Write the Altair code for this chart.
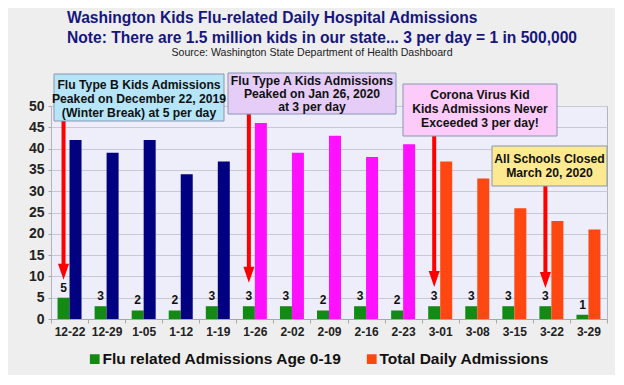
import altair as alt
import pandas as pd

# ---- data ----
dates = ["12-22", "12-29", "1-05", "1-12", "1-19", "1-26", "2-02", "2-09",
         "2-16", "2-23", "3-01", "3-08", "3-15", "3-22", "3-29"]
kids = [5, 3, 2, 2, 3, 3, 3, 2, 3, 2, 3, 3, 3, 3, 1]
totals = [42, 39, 42, 34, 37, 46, 39, 43, 38, 41, 37, 33, 26, 23, 21]
total_groups = ["Flu B season", "Flu B season", "Flu B season", "Flu B season", "Flu B season",
                "Flu A season", "Flu A season", "Flu A season", "Flu A season", "Flu A season",
                "Total Daily Admissions", "Total Daily Admissions", "Total Daily Admissions",
                "Total Daily Admissions", "Total Daily Admissions"]

KIDS = "Flu related Admissions Age 0-19"
TOTAL = "Total Daily Admissions"

y_ticks = [0, 5, 10, 15, 20, 25, 30, 35, 40, 45, 50]

arrow_dates = ["12-22", "1-26", "3-01", "3-22"]
arrow_top = [48, 48.5, 43, 31.5]
arrow_tip = [9.2, 8.5, 7.5, 7.3]

title_lines = ["Washington Kids Flu-related Daily Hospital Admissions",
               "Note: There are 1.5 million kids in our state... 3 per day = 1 in 500,000"]
source_text = "Source: Washington State Department of Health Dashboard"

box1_lines = ["Flu Type B Kids Admissions", "Peaked on December 22, 2019", "(Winter Break) at 5 per day"]
box2_lines = ["Flu Type A Kids Admissions", "Peaked on Jan 26, 2020", "at 3 per day"]
box3_lines = ["Corona Virus Kid", "Kids Admissions Never", "Exceeded 3 per day!"]
box4_lines = ["All Schools Closed", "March 20, 2020"]

# ---- tables ----
rows = []
for d, k, t, g in zip(dates, kids, totals, total_groups):
    rows.append({"date": d, "series": "kids", "value": k, "color": KIDS})
    rows.append({"date": d, "series": "total", "value": t, "color": g})
bars_df = pd.DataFrame(rows)
kids_df = pd.DataFrame({"date": dates, "series": "kids", "value": kids})
arrows_df = pd.DataFrame({"date": arrow_dates, "series": "kids", "top": arrow_top, "tip": arrow_tip})
one = pd.DataFrame({"k": [0]})

GREEN = "#138a13"
ORANGE = "#ff4711"
NAVY = "#000080"
MAGENTA = "#ff10ff"
RED = "#ff0000"
TXT_FONT = "Liberation Sans"

x_enc = alt.X("date:N", sort=dates,
              scale=alt.Scale(paddingInner=0, paddingOuter=0),
              axis=alt.Axis(title=None, labelAngle=0, labelFontSize=12, labelFontWeight="bold",
                            labelColor="#222222", tickBand="extent", tickSize=4, tickColor="#a8a8a8",
                            domainColor="#a8a8a8", labelPadding=3, grid=False))
off_enc = alt.XOffset("series:N", scale=alt.Scale(domain=["kids", "total"], paddingOuter=0.545, paddingInner=0))
y_scale = alt.Scale(domain=[0, 50], nice=False, zero=True)
y_axis = alt.Axis(title=None, values=y_ticks, tickCount=11, labelFontSize=14,
                  labelFontWeight="bold", labelColor="#222222", tickSize=3,
                  tickColor="#a8a8a8", labelPadding=4, domain=False,
                  labelOverlap=False, gridColor="#c9c9d6")

bars = alt.Chart(bars_df).mark_bar().encode(
    x=x_enc, xOffset=off_enc,
    y=alt.Y("value:Q", scale=y_scale, axis=y_axis),
    color=alt.Color("color:N",
                    scale=alt.Scale(domain=[KIDS, TOTAL, "Flu B season", "Flu A season"],
                                    range=[GREEN, ORANGE, NAVY, MAGENTA]),
                    legend=alt.Legend(title=None, orient="none", legendX=36, legendY=245,
                                      direction="horizontal", symbolType="square", symbolSize=95,
                                      labelFontSize=15.5, labelFontWeight="bold", labelColor="#111111",
                                      labelFont="Liberation Sans", columnPadding=22, labelOffset=0,
                                      labelLimit=400, values=[KIDS, TOTAL], symbolStrokeWidth=0,
                                      padding=0)),
)

labels = alt.Chart(kids_df).mark_text(fontSize=12, fontWeight="bold", color="#111111",
                                      baseline="bottom", dy=-3).encode(
    x=alt.X("date:N", sort=dates), xOffset=alt.XOffset("series:N"),
    y=alt.Y("value:Q", scale=y_scale, axis=y_axis), text="value:Q")

arrows = alt.Chart(arrows_df).transform_calculate(base="datum.tip + 3").mark_rule(
    color=RED, strokeWidth=4, xOffset=-1.5).encode(
    x=alt.X("date:N", sort=dates), xOffset=alt.XOffset("series:N"),
    y=alt.Y("top:Q", scale=y_scale, axis=y_axis), y2="base:Q")

heads = alt.Chart(arrows_df).mark_point(
    shape="M-1.1,-3.2L1.1,-3.2L0,0Z", size=100, filled=True, opacity=1,
    color=RED, strokeWidth=0, xOffset=-1.5).encode(
    x=alt.X("date:N", sort=dates), xOffset=alt.XOffset("series:N"),
    y=alt.Y("tip:Q", scale=y_scale, axis=y_axis))


def box(x0, y0, x1, y1, fill, lines, cx, cy, lh=14):
    rect = alt.Chart(one).mark_rect(fill=fill, stroke="#8796b4", strokeWidth=1).encode(
        x=alt.value(x0), x2=alt.value(x1), y=alt.value(y0), y2=alt.value(y1))
    txt = alt.Chart(one).mark_text(font=TXT_FONT, fontSize=12.2, fontWeight="bold", color="#111111",
                                   align="center", baseline="middle", lineHeight=lh).encode(
        x=alt.value(cx), y=alt.value(cy), text=alt.value(lines))
    return [rect, txt]


boxes = []
boxes += box(3, -32, 173, 15, "#b5e5f7", box1_lines, 88, -21)
boxes += box(177, -33, 345, 8, "#e6cdf7", box2_lines, 261, -25, 13)
boxes += box(352, -22, 506, 30, "#fdcbfa", box3_lines, 429, -11)
boxes += box(441, 40, 556, 80, "#fde98f", box4_lines, 498.5, 52.5, 14.5)

t1 = alt.Chart(one).mark_text(font="Liberation Sans", fontSize=15.6, fontWeight="bold", color="#16167e",
                              align="left", baseline="middle").encode(
    x=alt.value(16), y=alt.value(-88), text=alt.value(title_lines[0]))
t2 = alt.Chart(one).mark_text(font="Liberation Sans", fontSize=15.6, fontWeight="bold", color="#16167e",
                              align="left", baseline="middle").encode(
    x=alt.value(16), y=alt.value(-68), text=alt.value(title_lines[1]))
t3 = alt.Chart(one).mark_text(font="Liberation Sans", fontSize=10.6, color="#222222",
                              align="center", baseline="middle").encode(
    x=alt.value(261), y=alt.value(-53), text=alt.value(source_text))

chart = alt.layer(bars, labels, arrows, heads, *boxes, t1, t2, t3).properties(
    width=556, height=213,
    autosize=alt.AutoSizeParams(type="none"),
    padding={"left": 43, "top": 98, "right": 8, "bottom": 56},
    background="#eeeeee",
).configure_view(fill="#eeeefb", stroke="#b4b4c0").configure_axis(
    labelFont="Liberation Sans")

chart.save("out.html", embed_options={"renderer": "svg", "actions": False})
